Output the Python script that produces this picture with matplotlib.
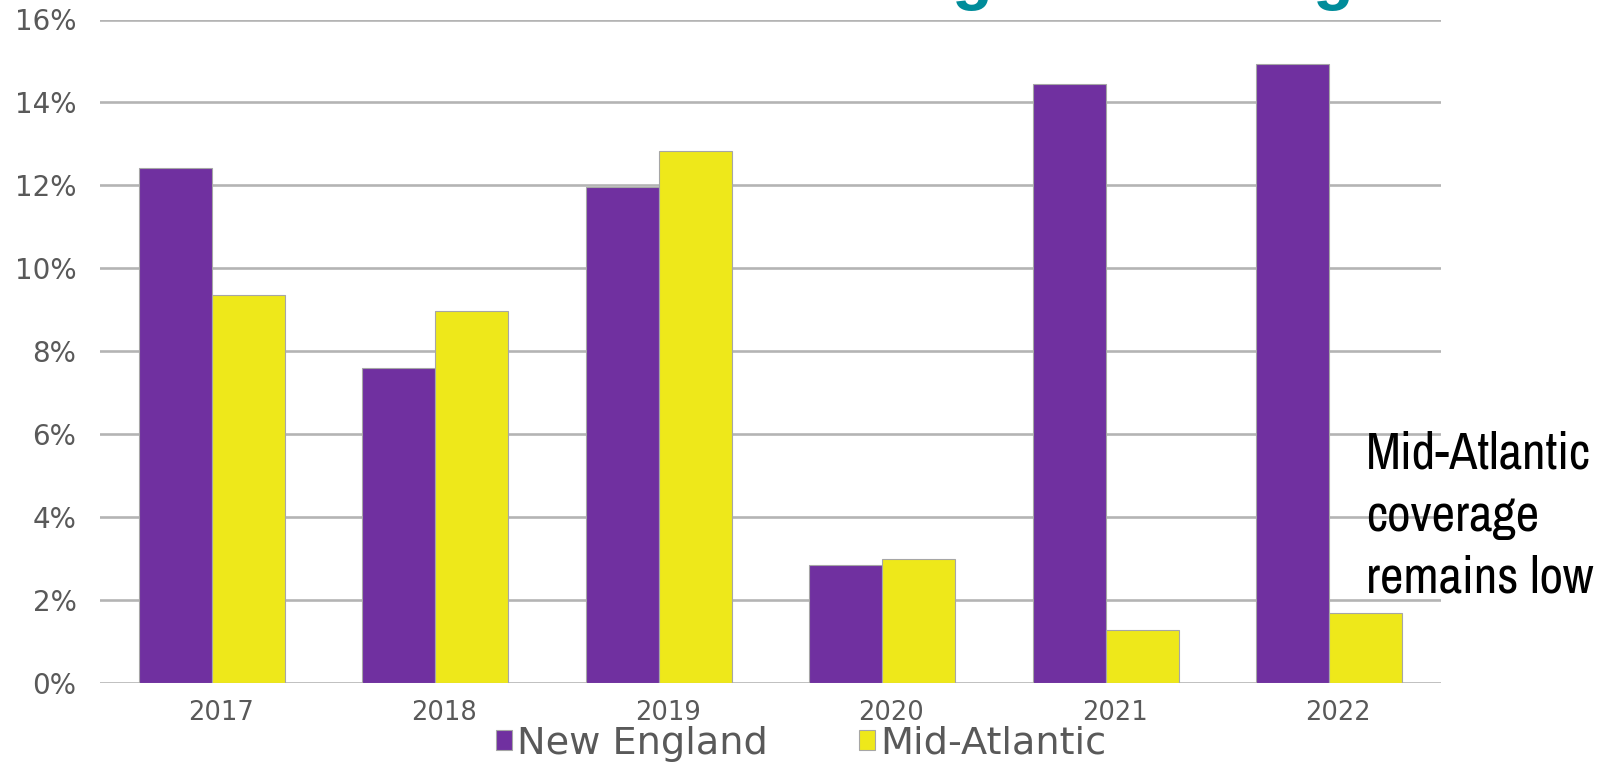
import numpy as np
import matplotlib
matplotlib.use("Agg")
import matplotlib.pyplot as plt
import matplotlib.transforms as mtransforms
from matplotlib.patches import Patch
from matplotlib import font_manager

# Share of coverage by year, in percent
years = ["2017", "2018", "2019", "2020", "2021", "2022"]
new_england = [12.42, 7.6, 11.95, 2.85, 14.45, 14.92]
mid_atlantic = [9.36, 8.96, 12.82, 3.0, 1.27, 1.69]
series_names = ["New England", "Mid-Atlantic"]
y_ticks = [0, 2, 4, 6, 8, 10, 12, 14, 16]
note_text = "Mid-Atlantic\ncoverage\nremains low"

PURPLE = "#7030A0"
YELLOW = "#EEE81A"
EDGE = "#A6A6A6"
GRID = "#B4B4B4"
TEXT_GREY = "#595959"
TEAL = "#008C9A"

# Prefer a narrow face for the side note when one is installed
names = sorted({f.name for f in font_manager.fontManager.ttflist})
narrow = [n for n in names if "Narrow" in n] + [n for n in names if "Condensed" in n]
if narrow:
    note_family = [narrow[0], "Liberation Sans"]
    note_size, note_ls = 37, 1.4
else:
    note_family = ["Liberation Sans", "DejaVu Sans"]
    note_size, note_ls = 31, 1.65

W, H = 1610, 764
fig = plt.figure(figsize=(W / 100, H / 100), dpi=100)
ax = fig.add_axes([100 / W, 1 - 683 / H, (1441 - 100) / W, (683 - 19.5) / H])

x = np.arange(len(years))
bw = 0.327
ax.bar(x - bw / 2, new_england, bw, color=PURPLE, edgecolor=EDGE, linewidth=0.8, zorder=3)
ax.bar(x + bw / 2, mid_atlantic, bw, color=YELLOW, edgecolor=EDGE, linewidth=0.8, zorder=3)

ax.set_xlim(-0.5, len(years) - 0.5)
ax.set_ylim(0, 16)
ax.set_yticks(y_ticks)
ax.set_yticklabels([f"{v}%" for v in y_ticks])
ax.set_xticks(x)
ax.set_xticklabels(years)
ax.yaxis.grid(True, color=GRID, linewidth=1.9, zorder=0)
ax.set_axisbelow(True)
for s in ax.spines.values():
    s.set_visible(False)
ax.tick_params(axis="both", length=0, colors=TEXT_GREY)
ax.tick_params(axis="y", pad=17, labelsize=20)
ax.tick_params(axis="x", pad=12, labelsize=18.5)
shift = mtransforms.ScaledTranslation(9 / 100, 0, fig.dpi_scale_trans)
for lbl in ax.get_xticklabels():
    lbl.set_family("DejaVu Sans")
    lbl.set_transform(lbl.get_transform() + shift)
for lbl in ax.get_yticklabels():
    lbl.set_family("DejaVu Sans")

handles = [Patch(facecolor=PURPLE, edgecolor=EDGE, linewidth=0.8),
           Patch(facecolor=YELLOW, edgecolor=EDGE, linewidth=0.8)]
leg = fig.legend(handles, series_names, loc="center", ncol=2,
                 bbox_to_anchor=(801 / W, 1 - 744 / H), frameon=False,
                 prop={"family": "DejaVu Sans", "size": 27.5},
                 handlelength=0.42, handleheight=0.42, handletextpad=0.12,
                 columnspacing=2.4, borderpad=0)
for t in leg.get_texts():
    t.set_color(TEXT_GREY)

# Side note over the right end of the plot
fig.text(1366 / W, 1 - 516 / H, note_text, ha="left", va="center",
         fontsize=note_size, family=note_family,
         color="black", linespacing=note_ls)

# Heading letters running off the top edge
for xc in (972, 1333):
    fig.text(xc / W, 1 + 3 / H, "g", ha="center", va="baseline",
             fontsize=48, fontweight="bold", family="Liberation Sans", color=TEAL)

fig.savefig("out.png", dpi=100)
